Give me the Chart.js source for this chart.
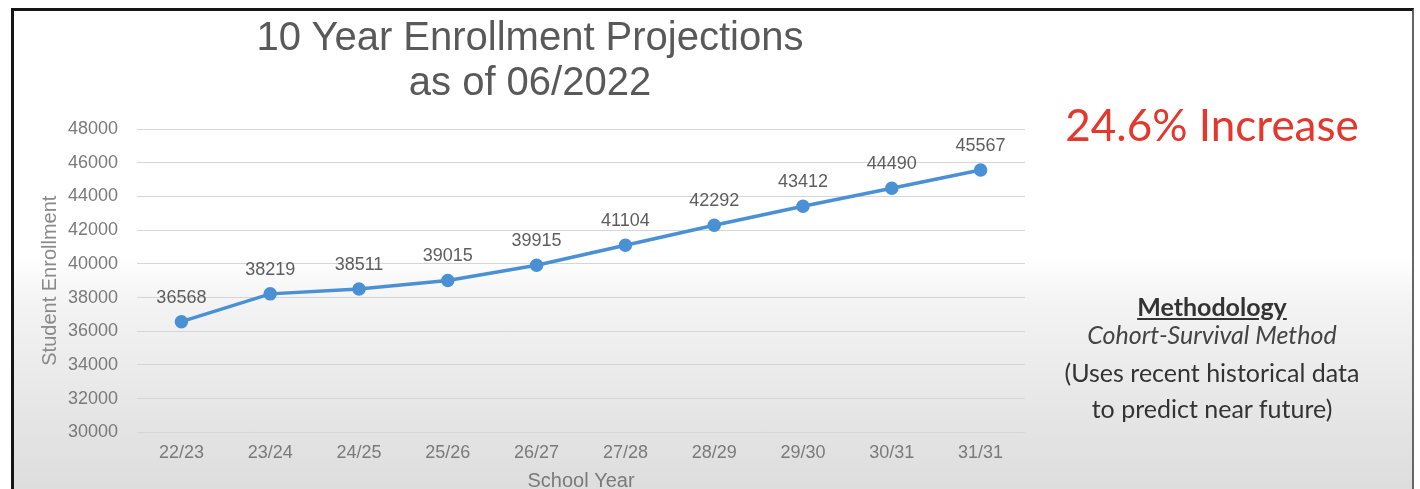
<!DOCTYPE html>
<html>
<head>
<meta charset="utf-8">
<script src="https://cdn.jsdelivr.net/npm/chart.js@4"></script>
<style>
  html, body { margin: 0; padding: 0; background: #fff; }
  #page { position: relative; width: 1420px; height: 489px; overflow: hidden; }
  #frame {
    position: absolute; left: 11px; top: 8px; width: 1398px; height: 490px;
    border-left: 3px solid #151515; border-top: 3px solid #151515; border-right: 2px solid #666;
    background: linear-gradient(to bottom, #ffffff 0%, #ffffff 50%, #f3f3f3 60%, #e4e4e4 85%, #dcdcdc 100%);
  }
  canvas#enrollChart { position: absolute; left: 0; top: 0; }
  .title { position: absolute; left: 180px; width: 700px; text-align: center;
    font-family: "Liberation Sans", Arial, sans-serif; font-size: 40px; color: #595959; line-height: 45px; top: 14px; }
  .side { position: absolute; left: 1010px; width: 404px; text-align: center; font-family: Lato, "Open Sans", sans-serif;
    font-size: 25px; line-height: 30px; color: #333; }
  #increase { top: 97px; font-size: 44px; line-height: 54px; color: #e2382e; }
  #m1 { top: 291px; font-weight: bold; text-decoration: underline; }
  #m2 { top: 319px; font-style: italic; color: #444; }
  #m3 { top: 357px; }
  #m4 { top: 393px; }
</style>
</head>
<body>
<div id="page">
  <div id="frame"></div>
  <canvas id="enrollChart" width="1420" height="493"></canvas>
  <div class="title">10 Year Enrollment Projections<br>as of 06/2022</div>
  <div class="side" id="increase">24.6% Increase</div>
  <div class="side" id="m1">Methodology</div>
  <div class="side" id="m2">Cohort-Survival Method</div>
  <div class="side" id="m3">(Uses recent historical data</div>
  <div class="side" id="m4">to predict near future)</div>
</div>
<script>
const schoolYears = ['22/23', '23/24', '24/25', '25/26', '26/27', '27/28', '28/29', '29/30', '30/31', '31/31'];
const enrollment = [36568, 38219, 38511, 39015, 39915, 41104, 42292, 43412, 44490, 45567];
const yMin = 30000;
const yMax = 48000;
const yStep = 2000;

const font = '"Liberation Sans", Arial, sans-serif';

// draws the value above every point
const pointLabels = {
    id: 'pointLabels',
    afterDatasetsDraw(chart) {
        const ctx = chart.ctx;
        const meta = chart.getDatasetMeta(0);
        ctx.save();
        ctx.font = '18px ' + font;
        ctx.fillStyle = '#5e5e5e';
        ctx.textAlign = 'center';
        ctx.textBaseline = 'middle';
        meta.data.forEach((pt, i) => {
            ctx.fillText(String(enrollment[i]), pt.x, pt.y - 24);
        });
        ctx.restore();
    }
};

const config = {
    type: 'line',
    data: {
        labels: schoolYears,
        datasets: [{
            label: 'Student Enrollment',
            data: enrollment,
            borderColor: '#4a90d4',
            backgroundColor: '#4a90d4',
            borderWidth: 3.5,
            pointRadius: 5,
            pointHoverRadius: 5,
            tension: 0
        }]
    },
    options: {
        responsive: false,
        animation: false,
        layout: {
            padding: { left: 34, right: 395, top: 129, bottom: 0 }
        },
        plugins: {
            legend: { display: false },
            tooltip: { enabled: false }
        },
        scales: {
            x: {
                offset: true,
                grid: { display: false },
                border: { display: false },
                ticks: {
                    color: '#7a7a7a',
                    font: { family: font, size: 18 },
                    padding: 2
                },
                title: {
                    display: true,
                    text: 'School Year',
                    color: '#7a7a7a',
                    font: { family: font, size: 20 },
                    padding: { top: 3, bottom: 0 }
                }
            },
            y: {
                min: yMin,
                max: yMax,
                afterFit(scale) { scale.width = 103; },
                grid: { color: '#d6d6d6', lineWidth: 1, drawTicks: false },
                border: { display: false },
                ticks: {
                    stepSize: yStep,
                    color: '#7a7a7a',
                    font: { family: font, size: 18 },
                    padding: 19,
                    callback: (v) => String(v)
                },
                title: {
                    display: true,
                    text: 'Student Enrollment',
                    color: '#8a8a8a',
                    font: { family: font, size: 20 },
                    padding: { top: 4, bottom: 4 }
                }
            }
        }
    },
    plugins: [pointLabels]
};

new Chart('enrollChart', config);
</script>
</body>
</html>
